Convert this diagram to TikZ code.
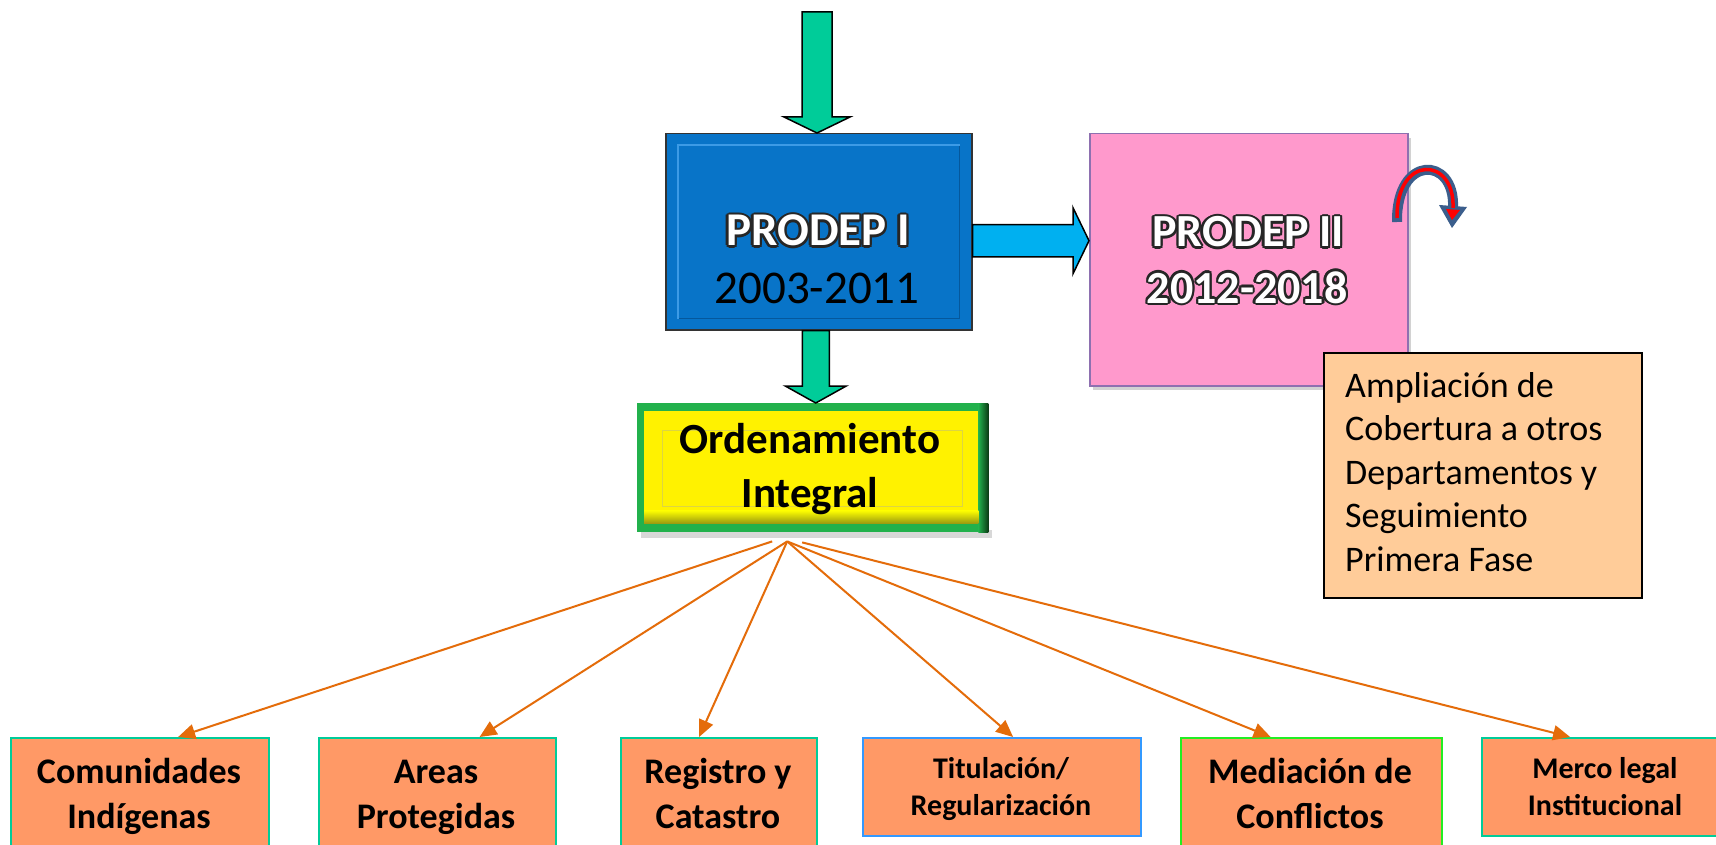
\documentclass[tikz,border=0pt]{standalone}
\usepackage{fontspec}
\setmainfont{Carlito}
\usetikzlibrary{calc,arrows.meta,shadows}
\definecolor{pblue}{HTML}{0874C8}
\definecolor{pbluelight}{HTML}{3C9BE6}
\definecolor{pbluedark}{HTML}{05589C}
\definecolor{agreen}{HTML}{00CC99}
\definecolor{ablue}{HTML}{00B0F0}
\definecolor{ppink}{HTML}{FF99CC}
\definecolor{ppinkb}{HTML}{8E70B0}
\definecolor{peach}{HTML}{FFCC99}
\definecolor{salmon}{HTML}{FF9966}
\definecolor{oline}{HTML}{E46C0A}
\definecolor{bteal}{HTML}{00CC99}
\definecolor{bblue}{HTML}{3399FF}
\definecolor{bgreen}{HTML}{22EE22}
\definecolor{ogreen}{HTML}{22B14C}
\definecolor{odark}{HTML}{0B3A14}
\definecolor{cblue}{HTML}{3B5E8C}
\definecolor{yolive}{HTML}{9A9A10}
\newcommand{\twol}[2]{\begin{tabular}[t]{@{}c@{}}#1\\#2\end{tabular}}
\newcommand{\blockv}[6]{%
 \path[#1] let \p1=(#2), \p2=(#3) in
  (\x1-#4pt,\y1) -- (\x1-#4pt,\y2+#6pt) -- (\x1-#5pt,\y2+#6pt) -- (\x1,\y2)
  -- (\x1+#5pt,\y2+#6pt) -- (\x1+#4pt,\y2+#6pt) -- (\x1+#4pt,\y1) -- cycle;}
\newcommand{\blockh}[6]{%
 \path[#1] let \p1=(#2), \p2=(#3) in
  (\x1,\y1+#4pt) -- (\x2-#6pt,\y1+#4pt) -- (\x2-#6pt,\y1+#5pt) -- (\x2,\y1)
  -- (\x2-#6pt,\y1-#5pt) -- (\x2-#6pt,\y1-#4pt) -- (\x1,\y1-#4pt) -- cycle;}
\newcommand{\otext}[4]{%
 \foreach \ang in {0,30,...,330}{\node[anchor=base,font=#4,text=black!85,inner sep=0] (#1-\ang) at ($(#2)+(\ang:2.3)$) {#3};}
 \node[anchor=base,font=#4,text=white,inner sep=0] (#1) at (#2) {#3};}
\begin{document}
\begin{tikzpicture}[x=1pt,y=-1pt,
  box/.style={draw=#1, line width=2.2pt, fill=salmon, anchor=north west, inner sep=0},
  conn/.style={draw=oline, line width=2pt, -{Triangle[length=17pt,width=15pt]}},
  btxt/.style={anchor=base, inner sep=0, font=\fontsize{36}{45}\selectfont\bfseries},
  stxt/.style={anchor=base, inner sep=0, font=\fontsize{30}{37}\selectfont\bfseries},
  greenarrow/.style={draw=black, line width=1.5pt, fill=agreen, line join=miter},
  bluearrow/.style={draw=black, line width=1.5pt, fill=ablue, line join=miter}]
\useasboundingbox (0,0) rectangle (1716,845);
\clip (0,0) rectangle (1716,845);
\fill[white] (0,0) rectangle (1716,845);

% PRODEP I
\node[draw=black!80, line width=1.5pt, fill=pblue, minimum width=306pt, minimum height=196pt, anchor=north west, inner sep=0] (p1) at (665,133) {};
\draw[pbluedark, line width=1.5pt] ($(p1.north west)+(13,12)$) rectangle ($(p1.south east)+(-13,-12)$);
\draw[pbluelight, line width=1.5pt] ($(p1.south west)+(13,-12)$) -- ($(p1.north west)+(13,12)$) -- ($(p1.north east)+(-13,12)$);
\otext{t1}{818,246}{PRODEP I}{\fontsize{47}{57}\selectfont\bfseries}
\node[anchor=base, inner sep=0, font=\fontsize{47}{57}\selectfont] (t2) at (817,303) {2003-2011};

% PRODEP II
\node[draw=ppinkb, line width=1.5pt, fill=ppink, minimum width=318pt, minimum height=252pt, anchor=north west, inner sep=0,
  drop shadow={shadow xshift=3pt, shadow yshift=-4pt, opacity=0.35}] (p2) at (1089,133) {};
\otext{t3}{1248,247}{PRODEP II}{\fontsize{46}{56}\selectfont\bfseries}
\otext{t4}{1247,303}{2012-2018}{\fontsize{46}{56}\selectfont\bfseries}

% Ampliacion
\node[draw=black, line width=1.5pt, fill=peach, minimum width=318pt, minimum height=245pt, anchor=north west, inner sep=0] (amp) at (1323,352) {};
\node[anchor=base west, inner sep=0, font=\fontsize{36}{43.5}\selectfont] (ampt) at (1345,397)
  {\begin{tabular}[t]{@{}l@{}}Ampliación de\\Cobertura a otros\\Departamentos y\\Seguimiento\\Primera Fase\end{tabular}};

% Ordenamiento Integral
\fill[black!25, opacity=0.6] (641,530) rectangle (992,538);
\node[fill=ogreen, minimum width=351pt, minimum height=129pt, anchor=north west, inner sep=0] (ord) at (637,403) {};
\shade[left color=ogreen, right color=odark] ($(ord.north east)+(-10,0)$) rectangle (ord.south east);
\fill[yellow] ($(ord.north west)+(7,8)$) rectangle ($(ord.south east)+(-10,-22)$);
\shade[top color=yellow, bottom color=yolive] ($(ord.south west)+(7,-22)$) rectangle ($(ord.south east)+(-10,-9)$);
\draw[yellow!70!gray, line width=0.8pt] ($(ord.north west)+(25,27)$) rectangle ($(ord.south east)+(-26,-26)$);
\node[anchor=base, inner sep=0, font=\fontsize{43}{54}\selectfont\bfseries] (ordt) at (810,453) {\twol{Ordenamiento}{Integral}};

% block arrows
\coordinate (topin) at (817,12);
\blockv{greenarrow}{topin}{p1.north}{15}{33}{16}
\coordinate (dstart) at ($(p1.south)+(-3,0)$);
\blockv{greenarrow}{dstart}{ord.north}{13.5}{30.5}{17}
\coordinate (hstart) at ($(p1.east)+(0,9)$);
\blockh{bluearrow}{hstart}{p2.west}{16}{33}{16}

% curved arrow
\draw[cblue, line width=10pt] (1397,222) .. controls (1396,154) and (1455,156) .. (1453,207);
\fill[cblue] (1439,205) -- (1467,207) -- (1452,228) -- cycle;
\draw[red, line width=3.5pt] (1397,218) .. controls (1396,154) and (1455,156) .. (1453,208);
\fill[red] (1446,209) -- (1460,210) -- (1452,220) -- cycle;

% bottom boxes
\node[box=bteal, minimum width=258pt, minimum height=125pt] (c1) at (10,737) {};
\node[box=bteal, minimum width=237pt, minimum height=125pt] (c2) at (318,737) {};
\node[box=bteal, minimum width=196pt, minimum height=125pt] (c3) at (620,737) {};
\node[box=bblue, minimum width=278pt, minimum height=98pt] (c4) at (862,737) {};
\node[box=bgreen, minimum width=261pt, minimum height=125pt] (c5) at (1180,737) {};
\node[box=bteal, minimum width=248pt, minimum height=98pt] (c6) at (1481,737) {};

\node[btxt] (c1t) at (139,783) {\twol{Comunidades}{Indígenas}};
\node[btxt] (c2t) at (436,783) {\twol{Areas}{Protegidas}};
\node[btxt] (c3t) at (718,783) {\twol{Registro y}{Catastro}};
\node[stxt] (c4t) at (1001,778) {\twol{Titulación/}{Regularización}};
\node[btxt] (c5t) at (1310,783) {\twol{Mediación de}{Conflictos}};
\node[stxt] (c6t) at (1605,778) {\twol{Merco legal}{Institucional}};

% connectors
\coordinate (s0) at ($(ord.south)+(-40.5,9)$);
\coordinate (s1) at ($(ord.south)+(-25.5,9)$);
\coordinate (s2) at ($(ord.south)+(-10.5,10)$);
\draw[conn] (s0) -- ([xshift=38pt]c1.north);
\draw[conn] (s1) -- ([xshift=42pt]c2.north);
\draw[conn] (s1) -- ([xshift=-20pt]c3.north);
\draw[conn] (s1) -- ([xshift=11pt]c4.north);
\draw[conn] (s1) -- ([xshift=-41pt]c5.north);
\draw[conn] (s2) -- ([xshift=-36pt]c6.north);
\end{tikzpicture}
\end{document}
